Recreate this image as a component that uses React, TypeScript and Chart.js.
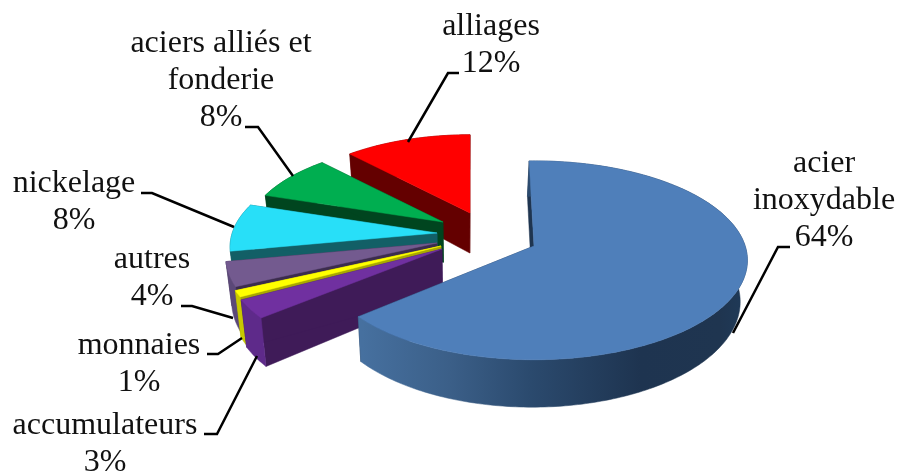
import React, { useEffect, useRef } from "react";
import { Chart, registerables } from "chart.js";

Chart.register(...registerables);

// ---- data
const categories = ["acier inoxydable", "accumulateurs", "monnaies", "autres", "nickelage", "aciers alliés et fonderie", "alliages"];
const shares = [64, 3, 1, 4, 8, 8, 12];
const labelLines = [["acier", "inoxydable"], ["accumulateurs"], ["monnaies"], ["autres"], ["nickelage"], ["aciers alliés et", "fonderie"], ["alliages"]];

// ---- colours
const topColors = ["#4f7fba", "#7030a0", "#ffff00", "#735a8f", "#28dff8", "#00ae50", "#ff0000"];
const edgeColors = ["#1f3550", "#3f1b58", "#a8a800", "#3b2c4d", "#125f66", "#00451f", "#640000"];
const rimColors = ["#1f3550", "#5e2a8a", "#c8c800", "#5b4878", "#125f66", "#00451f", "#640000"];
const rimGradientX = [362, 450, 530, 640, 720, 745];
const rimGradientColors = ["#46709f", "#3b5f88", "#2b4a6e", "#1e3450", "#1f3550", "#1f3a58"];

// ---- 3D layout: each wedge keeps Chart.js' angles, then gets a tilt, a nudge and a size
const shiftX = [85, -7, -8, -12, -12, -6, 21];
const shiftY = [9, 12, 9, 6, -4, -15, -24];
const sliceScale = [0.99, 1, 1, 0.98, 0.96, 0.915, 0.91];
const sliceTwistDeg = [-1.5, 0, 0, 0, 0, 0, 0];
const sliceDepth = [41, 44, 44, 44, 44, 44, 44];
const TILT_X = 0.9;
const TILT_Y = 0.415;
const PERSPECTIVE = 0.144;
const VANISH_X = 460;
const VANISH_RATE = 0.025;

// ---- labels
const labelCenterX = [824, 105, 139, 152, 74, 221, 491];
const labelFirstBaseline = [172, 434, 354, 268, 192, 52, 35];
const labelLineHeight = 37;
const leaderLines = [
  [[733, 333], [778, 247], [790, 247]],
  [[257, 356], [217, 434], [204, 434]],
  [[242, 338], [218, 354], [207, 354]],
  [[233, 318], [192, 306], [181, 306]],
  [[234, 227], [152, 193], [141, 193]],
  [[293, 176], [258, 127], [245, 127]],
  [[408, 142], [448, 73], [459, 73]],
];

type Pt = [number, number];

const pie3d = {
  id: "pie3d",
  beforeDatasetsDraw(chart: any) {
    const ctx = chart.ctx;
    const meta = chart.getDatasetMeta(0);
    for (let i = meta.data.length - 1; i >= 0; i--) {
      const arc = meta.data[i];
      const twist = (sliceTwistDeg[i] * Math.PI) / 180;
      const rx = arc.outerRadius * TILT_X;
      const ry = arc.outerRadius * TILT_Y;
      const ax = arc.x + shiftX[i];
      const ay = arc.y + shiftY[i];
      const f = sliceScale[i];
      const proj = (a: number): Pt => {
        const u = Math.cos(a);
        const v = Math.sin(a);
        const s = f / (1 - PERSPECTIVE * v);
        return [ax + rx * u * s, ay + ry * v * s];
      };
      const down = (p: Pt, s: number): Pt => [p[0] + (VANISH_X - p[0]) * VANISH_RATE, p[1] + sliceDepth[i] * s];
      const depthAt = (a: number) => f / (1 - PERSPECTIVE * Math.sin(a));

      const a0 = arc.startAngle + twist;
      const a1 = arc.endAngle + twist;
      const n = Math.max(4, Math.ceil(((a1 - a0) * 180) / Math.PI));
      const angles: number[] = [];
      for (let k = 0; k <= n; k++) angles.push(a0 + ((a1 - a0) * k) / n);
      const rimTop = angles.map(proj);
      const rimBottom = angles.map((a, k) => down(rimTop[k], depthAt(a)));
      const apex: Pt = [ax, ay];
      const apexBottom = down(apex, f);

      const fillPoly = (pts: Pt[], color: any) => {
        ctx.beginPath();
        pts.forEach((p, k) => (k ? ctx.lineTo(p[0], p[1]) : ctx.moveTo(p[0], p[1])));
        ctx.closePath();
        ctx.fillStyle = color;
        ctx.fill();
        ctx.strokeStyle = color;
        ctx.lineWidth = 0.5;
        ctx.stroke();
      };

      let rim: any = rimColors[i];
      if (i === 0) {
        const last = rimGradientX.length - 1;
        const g = ctx.createLinearGradient(rimGradientX[0], 0, rimGradientX[last], 0);
        rimGradientX.forEach((x, k) => {
          g.addColorStop((x - rimGradientX[0]) / (rimGradientX[last] - rimGradientX[0]), rimGradientColors[k]);
        });
        rim = g;
      }
      // radial walls
      fillPoly([apex, rimTop[0], rimBottom[0], apexBottom], edgeColors[i]);
      fillPoly([apex, rimTop[n], rimBottom[n], apexBottom], edgeColors[i]);
      // outer wall
      fillPoly([...rimTop, ...rimBottom.slice().reverse()], rim);
      // top face
      fillPoly([apex, ...rimTop], arc.options.backgroundColor);
    }
    return false;
  },
  afterDraw(chart: any) {
    const ctx = chart.ctx;
    ctx.save();
    ctx.strokeStyle = "#000";
    ctx.lineWidth = 2.5;
    ctx.lineJoin = "miter";
    leaderLines.forEach((line) => {
      ctx.beginPath();
      line.forEach((p, k) => (k ? ctx.lineTo(p[0], p[1]) : ctx.moveTo(p[0], p[1])));
      ctx.stroke();
    });
    ctx.fillStyle = "#111";
    ctx.font = '32px "Liberation Serif"';
    ctx.textAlign = "center";
    ctx.textBaseline = "alphabetic";
    const total = shares.reduce((a, b) => a + b, 0);
    labelLines.forEach((lines, i) => {
      const all = [...lines, `${Math.round((shares[i] / total) * 100)}%`];
      all.forEach((t, k) => {
        ctx.fillText(t, labelCenterX[i], labelFirstBaseline[i] + k * labelLineHeight);
      });
    });
    ctx.restore();
  },
};

export default function App() {
  const ref = useRef<HTMLCanvasElement>(null);
  useEffect(() => {
    document.body.style.margin = "0";
    const chart = new Chart(ref.current!, {
      type: "pie",
      data: {
        labels: categories,
        datasets: [{ data: shares, backgroundColor: topColors, borderWidth: 0 }],
      },
      options: {
        responsive: false,
        animation: false,
        layout: { padding: 0 },
        plugins: { legend: { display: false }, tooltip: { enabled: false } },
      },
      plugins: [pie3d],
    } as any);
    return () => chart.destroy();
  }, []);
  return <canvas ref={ref} width={898} height={474} style={{ display: "block", filter: "blur(0.4px)" }} />;
}
